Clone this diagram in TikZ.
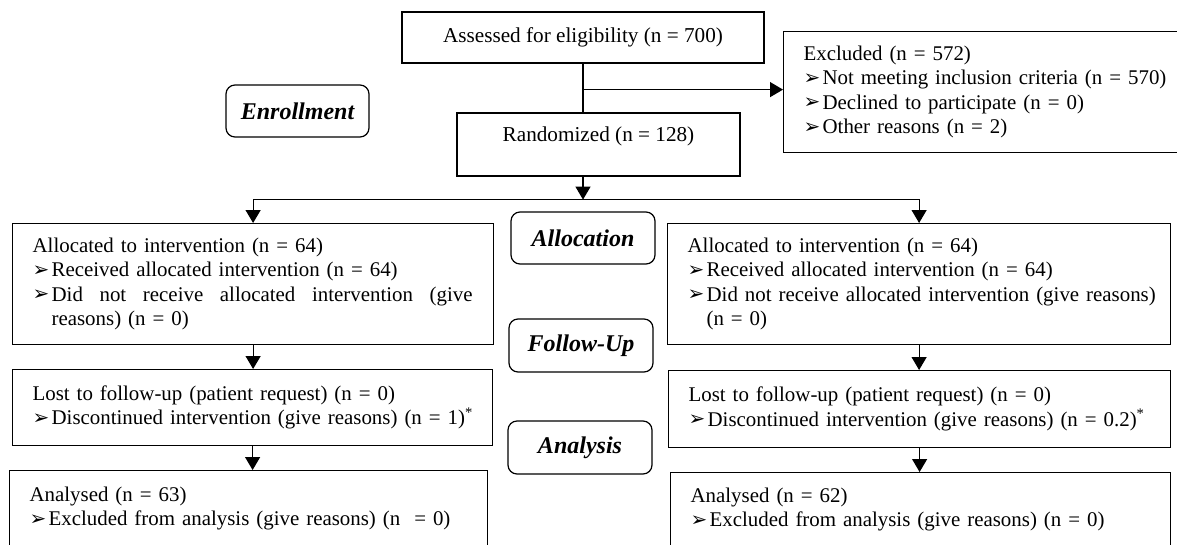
\documentclass[tikz,border=0pt]{standalone}
\usepackage{fontspec}
\setmainfont{Liberation Serif}
\newfontfamily\dvs{DejaVu Sans}
\usetikzlibrary{arrows.meta}
\newcommand{\bul}{\makebox[19pt][l]{\raisebox{0.5pt}{\dvs\fontsize{20}{20}\selectfont ➢}}}
\newcommand{\bl}[1]{\mbox{\bul #1}}
\newcommand{\hang}{\hspace*{19pt}}
\begin{document}
\begin{tikzpicture}[x=1pt,y=-1pt,
  box/.style={draw, line width=1.2pt, rectangle, inner xsep=20pt, inner ysep=0pt, align=left, anchor=north west, font=\fontsize{20.9}{24.5}\selectfont},
  cbox/.style={draw, line width=1.2pt, rectangle, inner sep=0pt, align=center, font=\fontsize{21.2}{24.5}\selectfont},
  phase/.style={draw, line width=1.2pt, rounded corners=9pt, inner sep=0pt, font=\fontsize{24}{24}\selectfont\bfseries\itshape},
  arr/.style={line width=1.2pt, -{Triangle[length=13pt,width=15pt]}},
  conn/.style={line width=1.2pt}]
\useasboundingbox (0,0) rectangle (1177,544);

\node[cbox, minimum width=362pt, minimum height=51pt] (assess) at (583,37.5) {Assessed for eligibility (n = 700)};
\node[cbox, minimum width=283pt, minimum height=63pt, text height=13pt, text depth=19pt] (rand) at (598.5,144.5) {Randomized (n = 128)};
\node[box, text width=359pt, minimum height=121pt] (excl) at (783,31) {\mbox{Excluded (n = 572)}\\ \bl{Not meeting inclusion criteria (n = 570)}\\ \bl{Declined to participate (n = 0)}\\ \bl{Other reasons (n = 2)}};

\node[phase, minimum width=143pt, minimum height=52pt] (enroll) at (297.5,111) {Enrollment};
\node[phase, minimum width=144pt, minimum height=52pt] (alloclbl) at (583,238) {Allocation};
\node[phase, minimum width=144pt, minimum height=53pt] (follow) at (581,345.5) {Follow-Up};
\node[phase, minimum width=144pt, minimum height=53pt] (analysis) at (580,447.5) {Analysis};

\node[box, text width=441pt, minimum height=121pt] (allocL) at (12,223) {\mbox{Allocated to intervention (n = 64)}\\ \bl{Received allocated intervention (n = 64)}\\ \bl{\makebox[421pt][l]{Did\hfill not\hfill receive\hfill allocated\hfill intervention\hfill (give}}\\ \hang reasons) (n = 0)};
\node[box, text width=440pt, minimum height=76pt] (lostL) at (12,369) {\mbox{Lost to follow-up (patient request) (n = 0)}\\ \bl{Discontinued intervention (give reasons) (n = 1)\textsuperscript{*}}};
\node[box, text width=438pt, minimum height=76pt] (anaL) at (9,470) {\mbox{Analysed (n = 63)}\\ \bl{Excluded from analysis (give reasons) (n\ \ = 0)}};

\node[box, text width=463pt, minimum height=121pt] (allocR) at (667,223) {\mbox{Allocated to intervention (n = 64)}\\ \bl{Received allocated intervention (n = 64)}\\ \bl{Did not receive allocated intervention (give reasons)}\\ \hang (n = 0)};
\node[box, text width=462pt, minimum height=77pt] (lostR) at (668,370) {\mbox{Lost to follow-up (patient request) (n = 0)}\\ \bl{Discontinued intervention (give reasons) (n = 0.2)\textsuperscript{*}}};
\node[box, text width=460pt, minimum height=74pt] (anaR) at (670,472) {\mbox{Analysed (n = 62)}\\ \bl{Excluded from analysis (give reasons) (n = 0)}};

\draw[conn] (assess.south) -- (assess.south |- rand.north);
\path (assess.south) ++(0,26) coordinate (br);
\draw[arr] (br) -- (br -| excl.west);
\draw[arr] (rand.south -| assess.south) -- ++(0,23) coordinate (hs);
\draw[arr] (hs) -| (allocL.north);
\draw[arr] (hs) -| (allocR.north);
\draw[arr] (allocL.south) -- (allocL.south |- lostL.north);
\draw[arr] (lostL.south) -- (lostL.south |- anaL.north);
\draw[arr] (allocR.south) -- (allocR.south |- lostR.north);
\draw[arr] (lostR.south) -- (lostR.south |- anaR.north);
\end{tikzpicture}
\end{document}
